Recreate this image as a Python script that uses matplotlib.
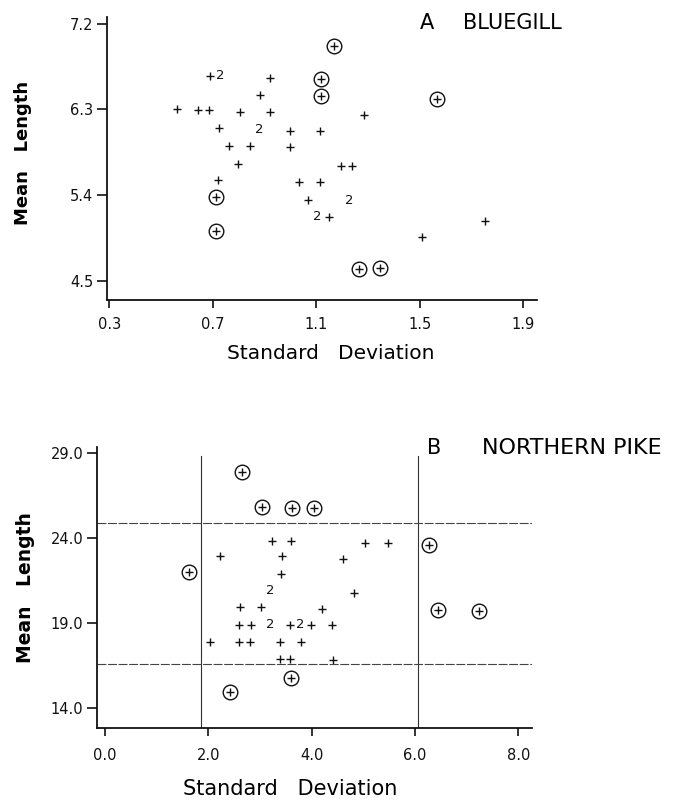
import matplotlib.pyplot as plt

plt.rcParams['font.family'] = ['DejaVu Sans']

# ---- A: bluegill ----
blue_sd = [0.687, 0.923, 0.883, 0.563, 0.644, 0.686, 0.806, 0.922, 1.284,
           0.725, 0.998, 1.115, 0.764, 0.845, 0.998, 0.798, 1.195, 1.240,
           0.721, 1.034, 1.113, 1.070, 1.148, 1.754, 1.511]
blue_mean = [6.653, 6.632, 6.450, 6.303, 6.296, 6.296, 6.275, 6.275, 6.246,
             6.106, 6.078, 6.072, 5.917, 5.917, 5.903, 5.731, 5.703, 5.703,
             5.560, 5.535, 5.535, 5.346, 5.171, 5.129, 4.963]
blue_out_sd = [1.167, 1.119, 1.119, 1.569, 0.713, 0.713, 1.267, 1.348]
blue_out_mean = [6.969, 6.618, 6.443, 6.411, 5.381, 5.020, 4.621, 4.627]
blue_two_sd = [0.728, 0.878, 1.229, 1.105]
blue_two_mean = [6.653, 6.085, 5.339, 5.171]

# ---- B: northern pike ----
pike_sd = [3.230, 3.603, 5.041, 5.473, 2.224, 3.429, 4.609, 3.417, 4.815,
           2.624, 3.023, 4.203, 2.598, 2.837, 3.584, 3.990, 4.397,
           2.031, 2.604, 2.817, 3.391, 3.790, 3.397, 3.578, 4.416]
pike_mean = [23.82, 23.82, 23.69, 23.69, 22.93, 22.89, 22.75, 21.87, 20.74,
             19.92, 19.92, 19.82, 18.89, 18.89, 18.89, 18.89, 18.89,
             17.87, 17.87, 17.87, 17.87, 17.87, 16.84, 16.84, 16.80]
pike_out_sd = [2.663, 3.042, 3.616, 4.048, 6.266, 1.624, 6.446, 7.233, 3.610, 2.424]
pike_out_mean = [27.85, 25.82, 25.76, 25.72, 23.59, 21.97, 19.76, 19.71, 15.76, 14.92]
pike_two_sd = [3.204, 3.204, 3.784]
pike_two_mean = [20.88, 18.89, 18.89]

# control limits drawn on the pike panel
pike_sd_limits = [1.86, 6.05]
pike_mean_limits = [16.54, 24.84]

fig = plt.figure(figsize=(6.74, 8.01), dpi=100)
ax1 = fig.add_axes([0.159, 0.626, 0.638, 0.353])
ax2 = fig.add_axes([0.144, 0.091, 0.645, 0.351])

ink = '#111111'


def draw_points(ax, sd, mean, out_sd, out_mean, two_sd, two_mean):
    ax.plot(sd, mean, linestyle='none', marker='+', ms=5.5, mew=1.0, color=ink)
    ax.plot(out_sd, out_mean, linestyle='none', marker='+', ms=5.5, mew=1.0, color=ink)
    ax.plot(out_sd, out_mean, linestyle='none', marker='o', ms=10.5, mew=1.0,
            mfc='none', mec=ink)
    for x, y in zip(two_sd, two_mean):
        ax.text(x, y, '2', fontsize=9.5, ha='center', va='center', color=ink)


def style_axes(ax, xpad):
    for side in ['top', 'right']:
        ax.spines[side].set_visible(False)
    for side in ['left', 'bottom']:
        ax.spines[side].set_linewidth(1.3)
        ax.spines[side].set_color(ink)
    ax.tick_params(axis='x', direction='out', length=6, width=1.2, colors=ink,
                   labelsize=10.5, pad=xpad)
    ax.tick_params(axis='y', direction='out', length=7, width=1.2, colors=ink,
                   labelsize=10.5, pad=3)


draw_points(ax1, blue_sd, blue_mean, blue_out_sd, blue_out_mean,
            blue_two_sd, blue_two_mean)
ax1.set_xlim(0.291, 1.955)
ax1.set_ylim(4.30, 7.274)
ax1.set_xticks([0.3, 0.7, 1.1, 1.5, 1.9])
ax1.set_xticklabels(['0.3', '0.7', '1.1', '1.5', '1.9'])
ax1.set_yticks([4.5, 5.4, 6.3, 7.2])
ax1.set_yticklabels(['4.5', '5.4', '6.3', '7.2'])
style_axes(ax1, 6.5)
ax1.set_xlabel('Standard   Deviation', fontsize=14.5, labelpad=9, x=0.519)
ax1.set_ylabel('Mean   Length', fontsize=13, fontweight='bold', labelpad=27,
               y=0.52)
fig.text(0.623, 0.971, 'A', fontsize=15, va='center', ha='left')
fig.text(0.687, 0.971, 'BLUEGILL', fontsize=15, va='center', ha='left')

draw_points(ax2, pike_sd, pike_mean, pike_out_sd, pike_out_mean,
            pike_two_sd, pike_two_mean)
for x in pike_sd_limits:
    ax2.plot([x, x], [12.8, 28.8], color='#333333', lw=0.8)
for y in pike_mean_limits:
    ax2.plot([-0.149, 8.258], [y, y], color='#444444', lw=0.8,
             linestyle=(0, (8, 1.5)))
ax2.set_xlim(-0.149, 8.258)
ax2.set_ylim(12.8, 29.33)
ax2.set_xticks([0, 2, 4, 6, 8])
ax2.set_xticklabels(['0.0', '2.0', '4.0', '6.0', '8.0'])
ax2.set_yticks([14, 19, 24, 29])
ax2.set_yticklabels(['14.0', '19.0', '24.0', '29.0'])
style_axes(ax2, 8)
ax2.set_xlabel('Standard   Deviation', fontsize=15, labelpad=12, x=0.444)
ax2.set_ylabel('Mean   Length', fontsize=13.5, fontweight='bold', labelpad=11)
fig.text(0.634, 0.441, 'B', fontsize=15, va='center', ha='left')
fig.text(0.715, 0.441, 'NORTHERN PIKE', fontsize=16, va='center', ha='left')

fig.savefig('out.png', dpi=100)
